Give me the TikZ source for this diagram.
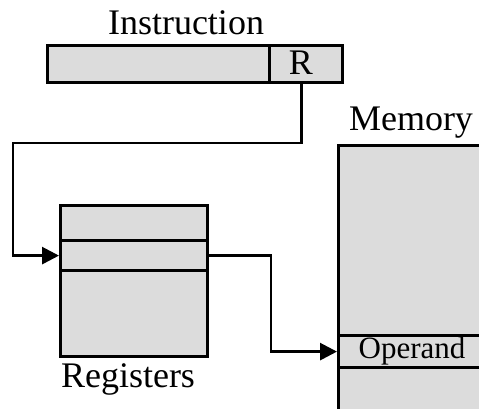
\documentclass[tikz,border=0pt]{standalone}
\usepackage{fontspec}
\setmainfont{Liberation Serif}
\usetikzlibrary{arrows.meta}
\definecolor{cellgray}{HTML}{DCDCDC}
\tikzset{
  cell/.style={draw=black, fill=cellgray, line width=3.2pt, inner sep=0pt, anchor=north west},
  lbl/.style={font=\fontsize{36}{40}\selectfont, inner sep=0pt},
  conn/.style={draw=black, line width=2.8pt, -{Triangle[length=17pt,width=17pt]}}
}
\begin{document}
\begin{tikzpicture}[x=1pt,y=-1pt]
\useasboundingbox (0,0) rectangle (479,408);
\begin{scope}
\clip (0,0) rectangle (479,408);
% Instruction
\node[cell, minimum width=222pt, minimum height=37pt] (instr) at (46,44) {};
\node[cell, minimum width=73pt, minimum height=37pt] (R) at (268,44) {};
\node[lbl] (Rt) at (301,63) {R};
\node[lbl] (instrlbl) at (186,23) {Instruction};
% Registers
\node[cell, minimum width=147pt, minimum height=35pt] (reg1) at (59,204) {};
\node[cell, minimum width=147pt, minimum height=30pt] (reg2) at (59,239) {};
\node[cell, minimum width=147pt, minimum height=86pt] (reg3) at (59,269) {};
\node[lbl] (reglbl) at (128,379) {Registers};
% Memory
\node[cell, minimum width=150pt, minimum height=190pt] (mem1) at (337,144) {};
\node[cell, minimum width=150pt, minimum height=32pt] (operand) at (337,334) {};
\node[cell, minimum width=150pt, minimum height=50pt] (mem3) at (337,366) {};
\node[lbl, font=\fontsize{31}{34}\selectfont] (optext) at (412,351) {Operand};
\node[lbl] (memlbl) at (411,123) {Memory};
\end{scope}
% connectors
\coordinate (c1) at (13,143);
\coordinate (c2) at (271,300);
\draw[conn] ([xshift=-5pt]R.south) |- (c1) |- (reg2.west);
\draw[conn] (reg2.east) -| (c2) |- (operand.west);
\end{tikzpicture}
\end{document}
